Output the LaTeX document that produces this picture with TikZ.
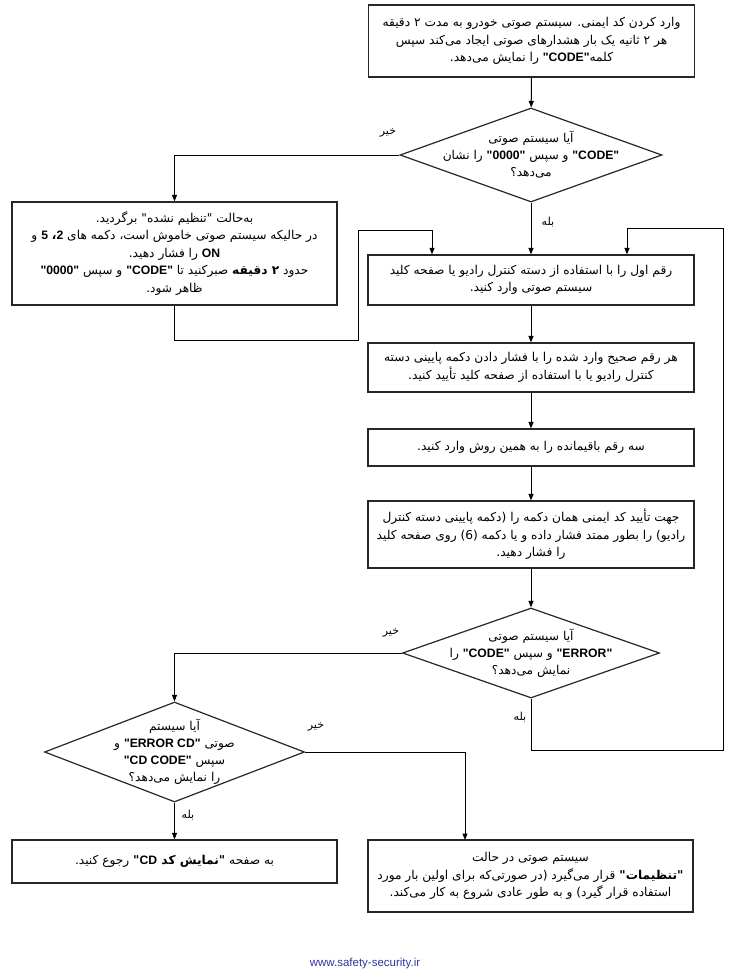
\documentclass[tikz,border=0pt]{standalone}
\usepackage{fontspec}
\TeXXeTstate=1
\newfontfamily\fafont[Script=Arabic]{DejaVu Sans}
\newfontfamily\enfont{Liberation Sans}
\usetikzlibrary{shapes.geometric,arrows.meta}
\definecolor{siteblue}{RGB}{51,51,160}
\newcommand\rl[1]{\beginR #1\endR}
\newcommand\en[1]{\beginL{\enfont\bfseries #1}\endL{}}
\tikzset{
  box/.style = {draw=black!85, line width=1.2pt, minimum width=326pt, inner sep=2pt,
                align=center, font=\fafont\fontsize{12.2}{17.5}\selectfont},
  decision/.style = {draw=black!85, line width=1.2pt, diamond, inner sep=0pt},
  txt/.style = {align=center, font=\fafont\fontsize{12.2}{17}\selectfont},
  answer/.style = {font=\fafont\fontsize{11}{13}\selectfont},
  arr/.style = {-{Triangle[length=6.5pt,width=5pt]}, line width=1pt},
}
\begin{document}
\begin{tikzpicture}[x=1pt,y=-1pt]
    \useasboundingbox (0,0) rectangle (731,972);
    % boxes
    \node[box, minimum height=72pt] (start) at (531.5,41) {\rl{وارد کردن کد ایمنی. سیستم صوتی خودرو به مدت ۲ دقیقه}\\\rl{هر ۲ ثانیه یک بار هشدارهای صوتی ایجاد می‌کند سپس}\\\rl{کلمه\en{"CODE"} را نمایش می‌دهد.}};
    \node[box, minimum height=103pt, minimum width=325pt] (reset) at (174.5,253.5) {\rl{به‌حالت "تنظیم نشده" برگردید.}\\\rl{در حالیکه سیستم صوتی خاموش است، دکمه های \en{2}{\bfseries ،} \en{5} و}\\\rl{\en{ON} را فشار دهید.}\\\rl{حدود {\bfseries ۲ دقیقه} صبرکنید تا \en{"CODE"} و سپس \en{"0000"}}\\\rl{ظاهر شود.}};
    \node[box, minimum height=50pt] (first) at (531,280) {\rl{رقم اول را با استفاده از دسته کنترل رادیو یا صفحه کلید}\\\rl{سیستم صوتی وارد کنید.}};
    \node[box, minimum height=49pt] (confirm) at (531,367.5) {\rl{هر رقم صحیح وارد شده را با فشار دادن دکمه پایینی دسته}\\\rl{کنترل رادیو یا با استفاده از صفحه کلید تأیید کنید.}};
    \node[box, minimum height=37pt] (rest) at (531,447.5) {\rl{سه رقم باقیمانده را به همین روش وارد کنید.}};
    \node[box, minimum height=67pt] (hold) at (531,534.5) {\rl{جهت تأیید کد ایمنی همان دکمه را (دکمه پایینی دسته کنترل}\\\rl{رادیو) را بطور ممتد فشار داده و یا دکمه (6) روی صفحه کلید}\\\rl{را فشار دهید.}};
    \node[box, minimum height=43pt, minimum width=325pt] (cdpage) at (174.5,861.5) {\rl{به صفحه {\bfseries "نمایش کد \en{CD}"} رجوع کنید.}};
    \node[box, minimum height=72pt, minimum width=325pt] (setup) at (530.5,876) {\rl{سیستم صوتی در حالت}\\\rl{{\bfseries "تنظیمات"} قرار می‌گیرد (در صورتی‌که برای اولین بار مورد}\\\rl{استفاده قرار گیرد) و به طور عادی شروع به کار می‌کند.}};
    % decisions
    \node[decision, minimum width=262pt, minimum height=94pt] (askcode) at (531,155) {};
    \node[txt] (askcodetext) at (askcode) {\rl{آیا سیستم صوتی}\\\rl{\en{"CODE"} و سپس \en{"0000"} را نشان}\\\rl{می‌دهد؟}};
    \node[decision, minimum width=257pt, minimum height=90pt] (askerror) at (531,653) {};
    \node[txt] (askerrortext) at (askerror) {\rl{آیا سیستم صوتی}\\\rl{\en{"ERROR"} و سپس \en{"CODE"} را}\\\rl{نمایش می‌دهد؟}};
    \node[decision, minimum width=260pt, minimum height=100pt] (askcd) at (174.5,752) {};
    \node[txt] (askcdtext) at (askcd) {\rl{آیا سیستم}\\\rl{صوتی \en{"ERROR CD"} و}\\\rl{سپس \en{"CD CODE"}}\\\rl{را نمایش می‌دهد؟}};
    % answers
    \node[answer] (no1) at (388,133) {\rl{خیر}};
    \node[answer] (yes1) at (548,222) {\rl{بله}};
    \node[answer] (no2) at (391,633) {\rl{خیر}};
    \node[answer] (yes2) at (520,717) {\rl{بله}};
    \node[answer] (no3) at (316,727) {\rl{خیر}};
    \node[answer] (yes3) at (188,815) {\rl{بله}};
    % loop corners
    \coordinate (l1) at (358,340);
    \coordinate (l2) at (432,230);
    \coordinate (r1) at (723,750);
    \coordinate (r2) at (627,228);
    \coordinate (n7) at (465,840);
    % connectors
    \draw[arr] (start) -- (askcode);
    \draw[arr] (askcode.west) -| (reset.north);
    \draw[arr] (askcode.south) -- (first.north);
    \draw[arr] (reset.south) |- (l1) |- (l2) -- (l2 |- first.north);
    \draw[arr] (first) -- (confirm);
    \draw[arr] (confirm) -- (rest);
    \draw[arr] (rest) -- (hold);
    \draw[arr] (hold) -- (askerror);
    \draw[arr] (askerror.south) |- (r1) |- (r2) -- (r2 |- first.north);
    \draw[arr] (askerror.west) -| (askcd.north);
    \draw[arr] (askcd.east) -| (n7);
    \draw[arr] (askcd.south) -- (cdpage.north);
    \node[font=\enfont\fontsize{11.5}{13}\selectfont, text=siteblue] (site) at (365,964) {www.safety-security.ir};
\end{tikzpicture}
\end{document}
